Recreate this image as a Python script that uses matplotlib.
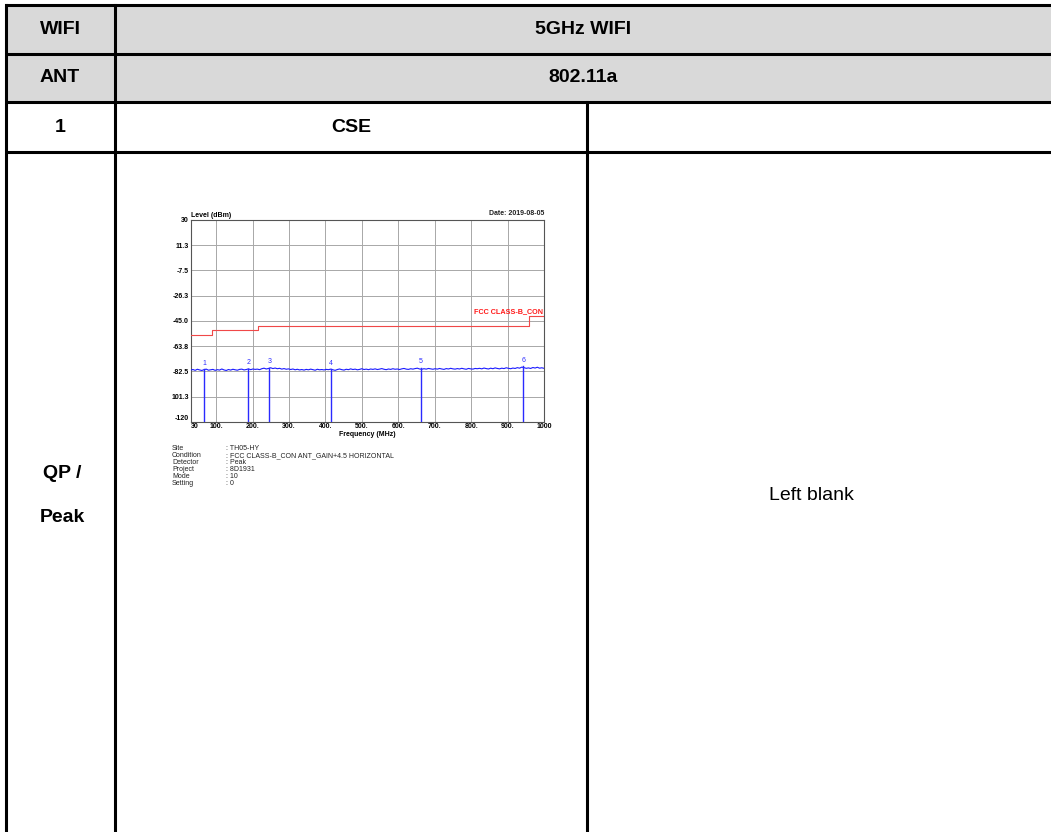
"""Test-report table cell with an embedded CSE spectrum plot (5GHz WIFI, 802.11a)."""

import matplotlib

matplotlib.use("Agg")
import matplotlib.pyplot as plt
import numpy as np

plt.rcParams["font.family"] = ["Liberation Sans", "DejaVu Sans"]

W, H = 1051, 832

# ---- table contents ----
HEADER_LEFT = ["WIFI", "ANT"]
HEADER_RIGHT = ["5GHz WIFI", "802.11a"]
ROW3 = ["1", "CSE"]
ROW4_LEFT = ["QP /", "Peak"]
BLANK_TEXT = "Left blank"

# ---- spectrum plot data ----
Y_TICKS = [30, 11.3, -7.5, -26.3, -45.0, -63.8, -82.5, -101.3, -120]
Y_TICK_LABELS = ["30", "11.3", "-7.5", "-26.3", "-45.0", "-63.8", "-82.5", "101.3", "-120"]
X_TICKS = [30, 100, 200, 300, 400, 500, 600, 700, 800, 900, 1000]
X_TICK_LABELS = ["30", "100.", "200.", "300.", "400.", "500.", "600.", "700.",
                 "800.", "900.", "1000"]

# limit line (FCC CLASS-B_CON), step edges in MHz and levels in dBm
LIMIT_EDGES = [30, 88, 216, 960, 1000]
LIMIT_LEVELS = [-55.2, -51.7, -49.2, -41.2]

TRACE_LEVELS = [
    -81.6, -81.2, -81.8, -81.0, -81.5, -81.9, -81.3, -80.9, -81.7, -81.4,
    -81.1, -81.8, -81.3, -81.6, -80.8, -81.5, -81.9, -81.2, -81.6, -81.0,
    -81.4, -81.7, -81.1, -80.9, -81.5, -81.2, -80.7, -81.3, -80.8, -81.1,
    -80.9, -81.3, -80.6, -80.2, -80.8, -80.4, -79.9, -80.5, -80.1, -80.6,
    -80.3, -80.9, -80.5, -81.0, -80.7, -81.2, -80.8, -81.4, -81.0, -81.5,
    -81.2, -81.6, -81.1, -81.4, -80.9, -81.3, -81.7, -81.0, -81.4, -81.2,
    -81.5, -81.1, -81.3, -80.9, -81.4, -81.8, -81.2, -80.8, -81.3, -81.6,
    -81.0, -81.3, -80.7, -81.2, -80.9, -81.4, -81.1, -80.6, -81.2, -80.9,
    -81.3, -80.8, -81.1, -80.7, -81.2, -80.9, -80.5, -81.0, -81.3, -80.8,
    -81.1, -80.6, -81.0, -80.8, -81.2, -80.7, -80.4, -80.9, -81.1, -80.6,
    -80.9, -80.5, -80.2, -80.8, -81.0, -80.6, -80.9, -80.4, -80.7, -81.0,
    -80.6, -80.9, -80.4, -80.8, -81.1, -80.5, -80.8, -80.3, -80.7, -80.9,
    -80.5, -80.8, -80.3, -80.7, -81.0, -80.4, -80.7, -80.9, -80.4, -80.6,
    -80.3, -80.7, -80.1, -80.5, -80.8, -80.2, -80.6, -80.0, -80.4, -80.7,
    -80.2, -80.5, -79.9, -80.3, -80.6, -80.1, -80.4, -79.8, -80.2, -79.4,
    -79.8, -80.3, -80.0, -80.4, -79.7, -80.1, -79.5, -80.2, -79.9, -80.3,
]

MARKER_IDS = ["1", "2", "3", "4", "5", "6"]
MARKER_FREQS = [67.4, 188.2, 245.8, 414.3, 661.3, 943.0]
MARKER_LEVELS = [-81.0, -80.8, -79.8, -81.0, -80.0, -78.8]

INFO_KEYS = ["Site", "Condition", "Detector", "Project", "Mode", "Setting"]
INFO_VALUES = [": TH05-HY", ": FCC CLASS-B_CON ANT_GAIN+4.5 HORIZONTAL",
               ": Peak", ": 8D1931", ": 10", ": 0"]

fig = plt.figure(figsize=(W / 100, H / 100), dpi=100)

# ---- the table, drawn in pixel coordinates ----
tab = fig.add_axes([0, 0, 1, 1])
tab.set_xlim(0, W)
tab.set_ylim(H, 0)
tab.axis("off")

x_left, x_col1, x_col2 = 5.5, 115, 587
y_top, y_r1, y_r2, y_r3 = 4.5, 53.5, 102, 151.5
lw = 2.2

tab.fill_between([x_left, W], y_top, y_r2, color="#d9d9d9", zorder=0)
for y in [y_top, y_r1, y_r2, y_r3]:
    tab.plot([x_left - 1, W], [y, y], color="black", lw=lw, solid_capstyle="butt")
tab.plot([x_left, x_left], [y_top, H], color="black", lw=lw)
tab.plot([x_col1, x_col1], [y_top, H], color="black", lw=lw)
tab.plot([x_col2, x_col2], [y_r2, H], color="black", lw=lw)

big = dict(fontsize=14, fontweight="bold", ha="center", va="center")
for txt, y in zip(HEADER_LEFT, [29, 78]):
    tab.text(60, y, txt, **big)
for txt, y in zip(HEADER_RIGHT, [29, 78]):
    tab.text(583, y, txt, **big)
tab.text(60, 127, ROW3[0], **big)
tab.text(351, 127, ROW3[1], **big)
tab.text(62, 474, ROW4_LEFT[0], **big)
tab.text(62, 517, ROW4_LEFT[1], **big)
tab.text(811, 496, BLANK_TEXT, fontsize=14, ha="center", va="center")

# info block under the spectrum plot (one line per 7 px)
for i, (k, v) in enumerate(zip(INFO_KEYS, INFO_VALUES)):
    y = 450 + i * 7
    tab.text(172, y, k, fontsize=5.0, va="baseline", color="#222222")
    tab.text(226, y, v, fontsize=5.0, va="baseline", color="#222222")

# ---- the spectrum plot ----
px_l, px_r, px_t, px_b = 190.7, 544, 220, 421.7
ax = fig.add_axes([px_l / W, 1 - px_b / H, (px_r - px_l) / W, (px_b - px_t) / H])
ax.set_xlim(30, 1000)
ax.set_ylim(-120, 30)

fs = 5.0
ax.set_yticks(Y_TICKS)
ax.set_yticklabels(Y_TICK_LABELS, fontsize=fs, fontweight="bold")
ax.set_xticks(X_TICKS)
ax.set_xticklabels(X_TICK_LABELS, fontsize=fs, fontweight="bold")
ax.tick_params(length=0, pad=1.2)
# corner labels: keep "-120" and the "30" frequency label apart
ax.get_xticklabels()[0].set_horizontalalignment("left")
ax.get_yticklabels()[-1].set_verticalalignment("bottom")
ax.grid(True, color="#a8a8a8", lw=0.7)
ax.set_axisbelow(True)
for s in ax.spines.values():
    s.set_color("#555555")
    s.set_linewidth(0.8)

limit_x = np.repeat(LIMIT_EDGES, 2)[1:-1]
limit_y = np.repeat(LIMIT_LEVELS, 2)
ax.plot(limit_x, limit_y, color="#f04848", lw=0.8, zorder=3)
ax.text(997, -38.5, "FCC CLASS-B_CON", color="#ff1a1a", fontsize=5.2,
        fontweight="bold", ha="right", va="center", zorder=4)

freqs = np.linspace(30, 1000, len(TRACE_LEVELS))
ax.plot(freqs, TRACE_LEVELS, color="#1a1aff", lw=0.8, zorder=3)

for mid, f, lv in zip(MARKER_IDS, MARKER_FREQS, MARKER_LEVELS):
    ax.plot([f, f], [-120, lv], color="#2a2aff", lw=1.0, zorder=3)
    ax.text(f, lv + 4.5, mid, color="#3030ff", fontsize=fs, ha="center",
            va="center", zorder=4)

ax.text(0.0, 1.005, "Level (dBm)", transform=ax.transAxes, fontsize=fs,
        fontweight="bold", ha="left", va="bottom")
ax.text(1.0, 1.015, "Date: 2019-08-05", transform=ax.transAxes, fontsize=fs,
        fontweight="bold", ha="right", va="bottom", color="#222222")
ax.set_xlabel("Frequency (MHz)", fontsize=fs, fontweight="bold", labelpad=0.3)

fig.savefig("out.png", dpi=100)
